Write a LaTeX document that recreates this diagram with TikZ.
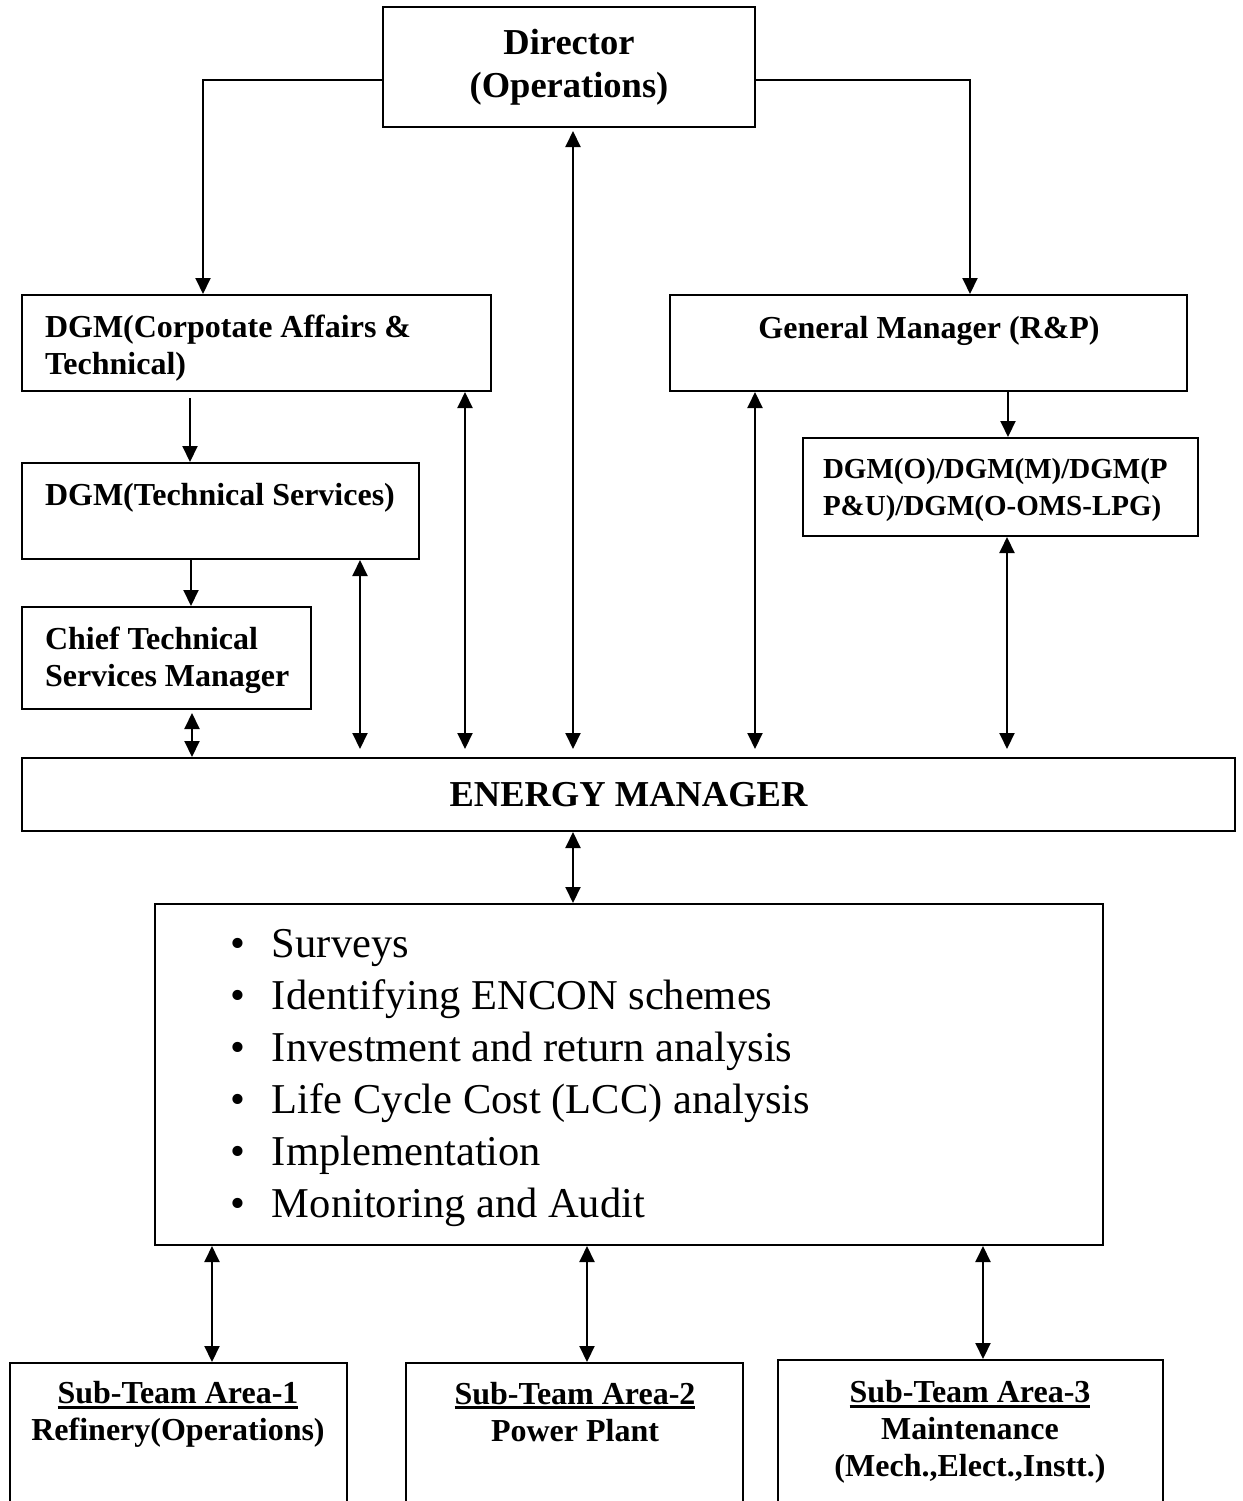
\documentclass[tikz,border=0pt]{standalone}
\usepackage{fontspec}
\setmainfont{Liberation Serif}
\usetikzlibrary{arrows.meta}

\newcommand\boxfont{\bfseries\fontsize{32}{37}\selectfont}
\newcommand\dgmofont{\bfseries\fontsize{29}{37}\selectfont}
\newcommand\headfont{\bfseries\fontsize{36.5}{43}\selectfont}
\newcommand\itemfont{\fontsize{42.5}{52}\selectfont}
\newcommand\teamul[1]{\vtop{\hbox{#1}\kern1.5pt\hrule height 3pt}}

\begin{document}
\begin{tikzpicture}[x=1pt,y=-1pt,line width=2pt,
    box/.style={draw,rectangle,inner sep=0pt},
    txt/.style={inner sep=0pt,font=\boxfont},
    conn/.style={draw,line width=2pt,>={Triangle[width=15pt,length=16pt]}}]

  \clip (0,0) rectangle (1242,1501);

  % top of the chart
  \node [box,minimum width=372pt,minimum height=120pt,font=\headfont,align=center] (dir) at (569,67) {Director\\(Operations)};

  \node [box,minimum width=469pt,minimum height=96pt] (dgmca) at (256.5,343) {};
  \node [txt,anchor=west,align=left] (dgmcatxt) at (44,348.5) {DGM(Corpotate Affairs \&\\Technical)};
  \node [box,minimum width=397pt,minimum height=96pt] (dgmts) at (220.5,511) {};
  \node [txt,anchor=west] (dgmtstxt) at (44,498) {DGM(Technical Services)};
  \node [box,minimum width=289pt,minimum height=102pt] (ctsm) at (166.5,658) {};
  \node [txt,anchor=west,align=left] (ctsmtxt) at (44,660) {Chief Technical\\Services Manager};

  \node [box,minimum width=517pt,minimum height=96pt] (gm) at (928.5,343) {};
  \node [txt] (gmtxt) at (929,331) {General Manager (R\&P)};
  \node [box,minimum width=395pt,minimum height=98pt] (dgmo) at (1000.5,487) {};
  \node [txt,font=\dgmofont,anchor=west,align=left] (dgmotxt) at (822,490) {DGM(O)/DGM(M)/DGM(P\\P\&U)/DGM(O-OMS-LPG)};

  \node [box,minimum width=1213pt,minimum height=73pt,font=\headfont] (em) at (628.5,794.5) {ENERGY MANAGER};

  % activities
  \node [box,minimum width=948pt,minimum height=341pt] (act) at (629,1074.5) {};
  \foreach \itm [count=\i] in {Surveys,Identifying ENCON schemes,Investment and return analysis,Life Cycle Cost (LCC) analysis,Implementation,Monitoring and Audit}
    \node [txt,font=\itemfont,anchor=base west] (item\i) at (229.5,905+52*\i) {\makebox[41.5pt][l]{\textbullet}\itm};

  % sub-teams
  \node [box,minimum width=337pt,minimum height=200pt,anchor=north] (st1) at (178.5,1362) {};
  \node [box,minimum width=337pt,minimum height=200pt,anchor=north] (st2) at (574.5,1362) {};
  \node [box,minimum width=385pt,minimum height=200pt,anchor=north] (st3) at (970.5,1359) {};
  \node [txt,align=center] (st1txt) at (178,1414.5) {\teamul{Sub-Team Area-1}\\Refinery(Operations)};
  \node [txt,align=center] (st2txt) at (575,1412) {\teamul{Sub-Team Area-2}\\Power Plant};
  \node [txt,align=center] (st3txt) at (970,1432) {\teamul{Sub-Team Area-3}\\Maintenance\\(Mech.,Elect.,Instt.)};

  % reporting lines
  \draw [conn,->] ([yshift=-13pt]dir.west) -| ([xshift=-53.5pt]dgmca.north);
  \draw [conn,->] ([yshift=-13pt]dir.east) -| ([xshift=41.5pt]gm.north);

  \path [every edge/.style={conn,->}]
    (dgmca.south -| 190,0) edge [shorten <=6pt] (dgmts.north -| 190,0)
    (dgmts.south -| 191,0) edge (ctsm.north -| 191,0)
    (gm.south -| 1008,0)   edge (dgmo.north -| 1008,0);

  \path [every edge/.style={conn,<->}]
    (ctsm.south -| 192,0)  edge [shorten <=3pt] (em.north -| 192,0)
    (dgmts.south -| 360,0) edge [shorten >=8pt] (em.north -| 360,0)
    (dgmca.south -| 465,0) edge [shorten >=8pt] (em.north -| 465,0)
    (dir.south -| 573,0)   edge [shorten <=3pt,shorten >=8pt] (em.north -| 573,0)
    (gm.south -| 755,0)    edge [shorten >=8pt] (em.north -| 755,0)
    (dgmo.south -| 1007,0) edge [shorten >=8pt] (em.north -| 1007,0)
    (em.south -| 573,0)    edge (act.north -| 573,0)
    (act.south -| 212,0)   edge (st1.north -| 212,0)
    (act.south -| 587,0)   edge (st2.north -| 587,0)
    (act.south -| 983,0)   edge (st3.north -| 983,0);

\end{tikzpicture}
\end{document}
